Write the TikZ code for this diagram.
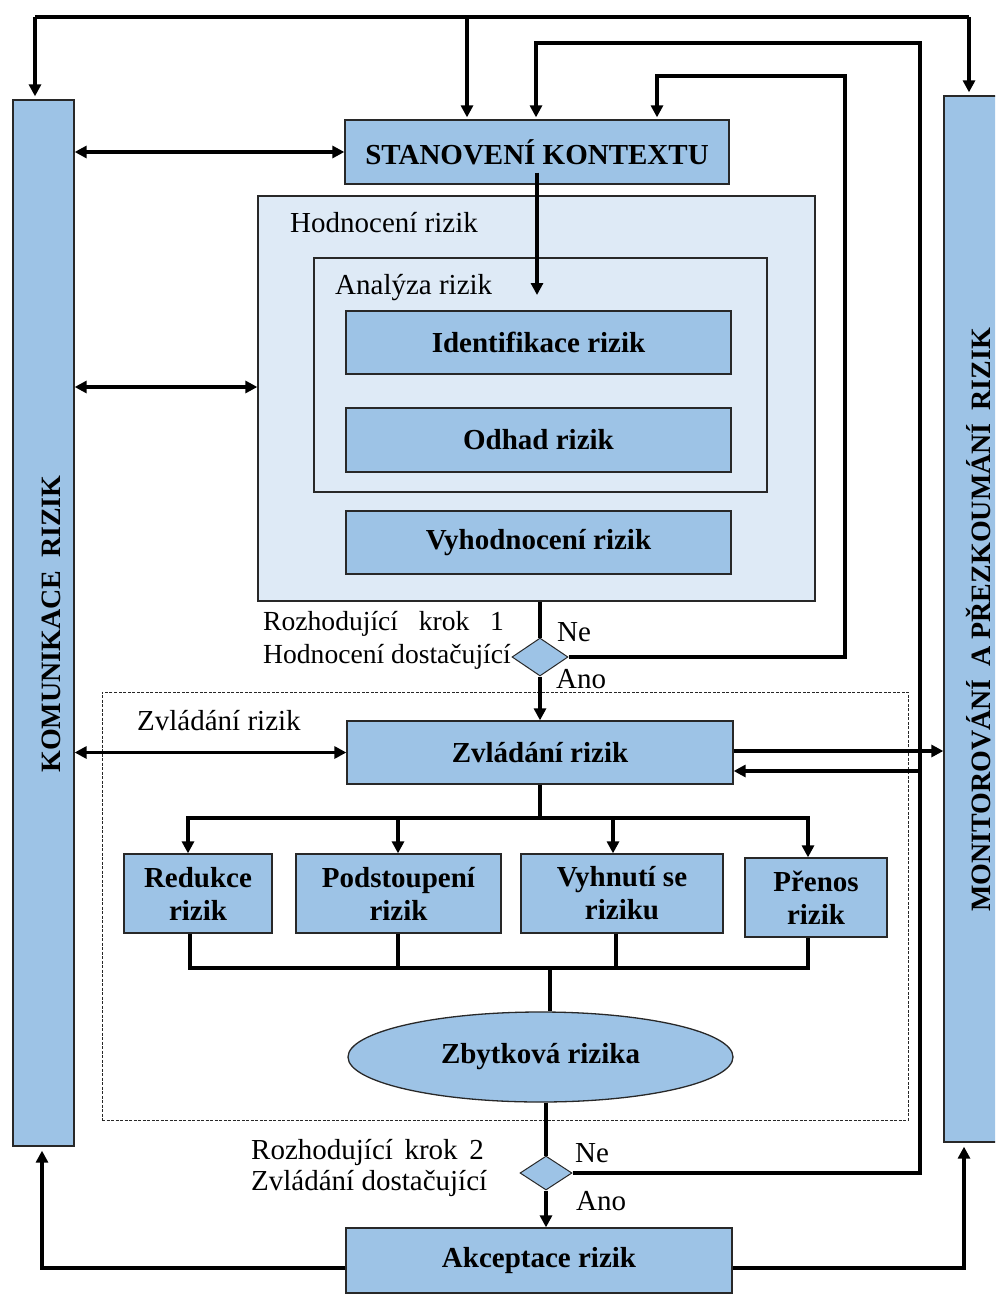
\documentclass[tikz,border=0pt]{standalone}
\usepackage{fontspec}
\setmainfont{Liberation Serif}
\usetikzlibrary{arrows.meta,shapes.geometric}
\definecolor{boxblue}{RGB}{157,195,230}
\definecolor{lightblue}{RGB}{222,234,246}
\definecolor{edge}{RGB}{40,40,40}
\begin{document}
\begin{tikzpicture}[x=1pt,y=-1pt,
  bluebox/.style={draw=edge,line width=1.3pt,fill=boxblue,inner sep=0pt,align=center,
    font=\fontsize{29}{33}\selectfont\bfseries},
  lightbox/.style={draw=edge,line width=1.3pt,fill=lightblue,inner sep=0pt},
  dashbox/.style={draw=edge,line width=0.9pt,dash pattern=on 3pt off 1.5pt,inner sep=0pt},
  barbox/.style={draw=edge,line width=1.3pt,fill=boxblue,inner sep=0pt},
  bartext/.style={rotate=90,inner sep=0pt,font=\fontsize{28}{32}\selectfont\bfseries},
  dec/.style={diamond,draw=edge,line width=1pt,fill=boxblue,inner sep=0pt},
  lbl/.style={anchor=west,inner sep=0pt,font=\fontsize{29}{33}\selectfont},
  conn/.style={line width=3.4pt,line join=miter},
  arr/.style={conn,-{Triangle[length=12pt,width=12pt]}},
  darr/.style={conn,{Triangle[length=12pt,width=12pt]}-{Triangle[length=12pt,width=12pt]}}
]
\useasboundingbox (0,0) rectangle (995,1297);
\clip (0,0) rectangle (995,1297);

% side bars
\node[barbox,minimum width=61pt,minimum height=1046pt] (kom) at (43.5,623) {};
\node[bartext] (komt) at (51,624) {KOMUNIKACE\hspace{0.45em}RIZIK};
\node[barbox,minimum width=74pt,minimum height=1046pt] (mon) at (981,619) {};
\node[bartext] (mont) at (979,620) {MONITOROVÁNÍ\hspace{0.45em}A PŘEZKOUMÁNÍ\hspace{0.45em}RIZIK};

% containers
\node[lightbox,minimum width=557pt,minimum height=405pt] (hod) at (536.5,398.5) {};
\node[lightbox,minimum width=453pt,minimum height=234pt] (ana) at (540.5,375) {};
\node[dashbox,minimum width=806pt,minimum height=428pt] (dsh) at (505,906) {};

\node[lbl] (lhod) at (290,223) {Hodnocení rizik};
\node[lbl] (lana) at (335,288) {Analýza rizik};
\node[lbl] (lzvl) at (137,721) {Zvládání rizik};

% boxes
\node[bluebox,minimum width=384pt,minimum height=64pt] (ctx) at (537,152) {STANOVENÍ KONTEXTU};
\node[bluebox,minimum width=385pt,minimum height=63pt] (ide) at (538.5,342.5) {Identifikace rizik};
\node[bluebox,minimum width=385pt,minimum height=64pt] (odh) at (538.5,440) {Odhad rizik};
\node[bluebox,minimum width=385pt,minimum height=63pt] (vyh) at (538.5,542.5) {Vyhodnocení rizik};
\node[bluebox,minimum width=386pt,minimum height=63pt] (zvl) at (540,752.5) {Zvládání rizik};
\node[bluebox,minimum width=148pt,minimum height=79pt] (red) at (198,893.5) {Redukce\\rizik};
\node[bluebox,minimum width=205pt,minimum height=79pt] (pod) at (398.5,893.5) {Podstoupení\\rizik};
\node[bluebox,minimum width=202pt,minimum height=79pt] (vyhn) at (622,893.5) {Vyhnutí se\\riziku};
\node[bluebox,minimum width=142pt,minimum height=79pt] (pre) at (816,897.5) {Přenos\\rizik};
\node[bluebox,ellipse,minimum width=385pt,minimum height=90pt] (zby) at (540.5,1057) {Zbytková rizika};
\node[bluebox,minimum width=386pt,minimum height=65pt] (ake) at (539,1260.5) {Akceptace rizik};

% decisions
\node[dec,minimum width=56pt,minimum height=38pt] (d1) at (540,657) {};
\node[dec,minimum width=52pt,minimum height=34pt] (d2) at (546,1173) {};

\node[lbl,font=\fontsize{27.6}{32}\selectfont] (k1a) at (263,624) {Rozhodující\hspace{0.75em}krok\hspace{0.75em}1};
\node[lbl,font=\fontsize{27.6}{32}\selectfont] (k1b) at (263,657) {Hodnocení dostačující};
\node[lbl] (ne1) at (557,632) {Ne};
\node[lbl] (ano1) at (556,679) {Ano};
\node[lbl] (k2a) at (251,1152) {Rozhodující\hspace{0.4em}krok\hspace{0.4em}2};
\node[lbl] (k2b) at (251,1183) {Zvládání dostačující};
\node[lbl] (ne2) at (575,1153) {Ne};
\node[lbl] (ano2) at (576,1201) {Ano};

% top distribution line
\coordinate (t1) at (35,17);
\coordinate (t2) at (969,17);
\coordinate (t3) at (467,17);
\draw[conn] (t1) -- (t2);
\draw[arr] (t1) -- ([yshift=3pt]kom.north -| t1);
\draw[arr] (t3) -- ([yshift=2pt]ctx.north -| t3);
\draw[arr] (t2) -- ([yshift=3pt]mon.north -| t2);

% decision 2 "Ne" feedback
\coordinate (n2a) at (920,1173);
\coordinate (n2b) at (920,43);
\coordinate (n2c) at (536,43);
\coordinate (n2d) at (920,771);
\draw[arr] (d2.east) -- (n2a) -- (n2b) -- (n2c) -- ([yshift=2pt]ctx.north -| n2c);
\draw[arr] (n2d) -- (zvl.east |- n2d);

% decision 1 "Ne" feedback
\coordinate (n1a) at (845,76);
\coordinate (n1b) at (657,76);
\draw[arr] (d1.east) -| (n1a) -- (n1b) -- ([yshift=2pt]ctx.north -| n1b);

% context down into analysis
\coordinate (aa) at (537,295);
\draw[arr] ([yshift=12pt]ctx.south) -- (aa);

% communication arrows
\coordinate (hy) at (0,387);
\draw[darr] (kom.east |- ctx.west) -- (ctx.west);
\draw[darr] (kom.east |- hy) -- (hod.west |- hy);
\draw[darr] (kom.east |- zvl.west) -- (zvl.west);

% monitoring arrow
\coordinate (zy) at (0,751);
\draw[arr] (zvl.east |- zy) -- (mon.west |- zy);

% main flow
\draw[conn] (hod.south -| d1.north) -- (d1.north);
\draw[arr] (d1.south) -- (zvl.north -| d1.south);

\coordinate (bj) at (540,818);
\coordinate (b1) at (188,818);
\coordinate (b2) at (398,818);
\coordinate (b3) at (613,818);
\coordinate (b4) at (808,818);
\draw[conn] (zvl.south) -- (bj);
\draw[arr] (bj) -- (b1) -- (b1 |- red.north);
\draw[arr] (bj) -- (b4) -- (b4 |- pre.north);
\draw[arr] (b2) -- (b2 |- pod.north);
\draw[arr] (b3) -- (b3 |- vyhn.north);

\coordinate (m1) at (190,968);
\coordinate (m2) at (398,968);
\coordinate (m3) at (616,968);
\coordinate (m4) at (808,968);
\coordinate (m5) at (550,968);
\draw[conn] (m1 |- red.south) -- (m1) -- (m4) -- (m4 |- pre.south);
\draw[conn] (m2 |- pod.south) -- (m2);
\draw[conn] (m3 |- vyhn.south) -- (m3);
\draw[conn] (m5) -- (m5 |- zby.north);

\draw[conn] (zby.south -| d2.north) -- (d2.north);
\draw[arr] (d2.south) -- (ake.north -| d2.south);

\coordinate (al) at (42,1268);
\coordinate (ar) at (964,1268);
\draw[arr] (ake.west |- al) -- (al) -- ([yshift=-4pt]kom.south -| al);
\draw[arr] (ake.east |- ar) -- (ar) -- ([yshift=-4pt]mon.south -| ar);
\end{tikzpicture}
\end{document}
